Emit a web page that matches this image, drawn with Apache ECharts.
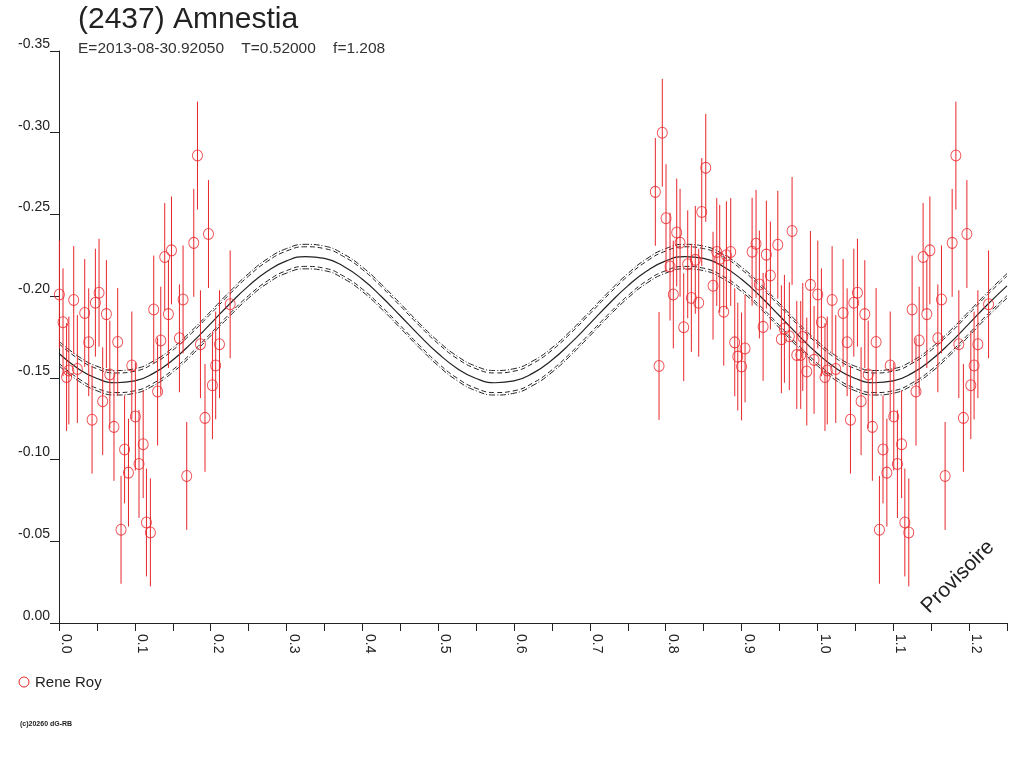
<!DOCTYPE html>
<html>
<head>
<meta charset="utf-8">
<title>(2437) Amnestia</title>
<script src="https://cdn.jsdelivr.net/npm/echarts/dist/echarts.min.js"></script>
<style>
html, body { margin: 0; padding: 0; background: #fff; }
#chart { width: 1024px; height: 768px; }
</style>
</head>
<body>
<div id="chart"></div>
<script>
// observations (phase, relative magnitude) - phases < 0.25 are repeated at phase + 1
var phases = [
    0.1826, 0.1971, 0.1777, 0.1483, 0.1394, 0.1636, 0.2257, 0.0005, 0.0194, 0.0528,
    0.0480, 0.0339, 0.0625, 0.0053, 0.1249, 0.1443, 0.0392, 0.0774, 0.1342, 0.1588,
    0.1865, 0.2116, 0.0130, 0.0100, 0.0242, 0.0670, 0.0960, 0.2066, 0.2023, 0.1300,
    0.0576, 0.0436, 0.0725, 0.1007, 0.1925, 0.1110, 0.0865, 0.1055, 0.0916, 0.1684,
    0.1153, 0.1205, 0.0818,
    0.7955, 0.8528, 0.7863, 0.8475, 0.8004, 0.9666, 0.8145, 0.8189, 0.9191, 0.9478,
    0.8857, 0.9139, 0.8673, 0.9327, 0.8800, 0.8712, 0.8390, 0.8057, 0.8290, 0.9380,
    0.8624, 0.9908, 0.8100, 0.8338, 0.8435, 0.8765, 0.9235, 0.8237, 0.9284, 0.9565,
    0.7912, 0.8910, 0.9046, 0.8950, 0.9000, 0.9525, 0.9630, 0.9807, 0.9728, 0.9780,
    0.9956, 0.9860
];
var mags = [
    -0.2860, -0.2380, -0.2326, -0.2280, -0.2240, -0.1980, -0.1950, -0.2010, -0.1976, -0.2021,
    -0.1960, -0.1897, -0.1890, -0.1840, -0.1918, -0.1890, -0.1718, -0.1720, -0.1728, -0.1742,
    -0.1706, -0.1706, -0.1545, -0.1505, -0.1554, -0.1520, -0.1576, -0.1576, -0.1455, -0.1416,
    -0.1357, -0.1244, -0.1200, -0.1263, -0.1255, -0.1094, -0.1062, -0.0973, -0.0920, -0.0900,
    -0.0615, -0.0554, -0.0570,
    -0.3000, -0.2785, -0.2638, -0.2515, -0.2477, -0.2399, -0.2389, -0.2327, -0.2320, -0.2315,
    -0.2270, -0.2272, -0.2270, -0.2254, -0.2250, -0.2228, -0.2222, -0.2181, -0.2195, -0.2126,
    -0.2064, -0.2069, -0.2010, -0.1989, -0.1960, -0.1905, -0.2071, -0.1810, -0.1812, -0.1800,
    -0.1573, -0.1717, -0.1680, -0.1630, -0.1570, -0.1736, -0.1755, -0.1750, -0.1640, -0.1640,
    -0.1610, -0.1539
];
var ERR = 0.033;

// fitted curve every 0.025 in phase
var curvePhase = [
    0.000, 0.025, 0.050, 0.075, 0.100, 0.125, 0.150, 0.175, 0.200, 0.225,
    0.250, 0.275, 0.300, 0.325, 0.350, 0.375, 0.400, 0.425, 0.450, 0.475,
    0.500, 0.525, 0.550, 0.575, 0.600, 0.625, 0.650, 0.675, 0.700, 0.725,
    0.750, 0.775, 0.800, 0.825, 0.850, 0.875, 0.900, 0.925, 0.950, 0.975,
    1.000, 1.025, 1.050, 1.075, 1.100, 1.125, 1.150, 1.175, 1.200, 1.225,
    1.250
];
var curveMag = [
    -0.1649, -0.1558, -0.1496, -0.1470, -0.1481, -0.1529, -0.1609, -0.1714, -0.1832, -0.1952,
    -0.2063, -0.2154, -0.2216, -0.2242, -0.2231, -0.2183, -0.2103, -0.1998, -0.1880, -0.1760,
    -0.1649, -0.1558, -0.1496, -0.1470, -0.1481, -0.1529, -0.1609, -0.1714, -0.1832, -0.1952,
    -0.2063, -0.2154, -0.2216, -0.2242, -0.2231, -0.2183, -0.2103, -0.1998, -0.1880, -0.1760,
    -0.1649, -0.1558, -0.1496, -0.1470, -0.1481, -0.1529, -0.1609, -0.1714, -0.1832, -0.1952,
    -0.2063
];
// half widths of the two uncertainty envelopes
var BAND_IN = 0.0060;
var BAND_OUT = 0.0075;

var RED = '#e8262b';
var INK = '#222';
var FONT = '"Liberation Sans", Arial, sans-serif';

var pts = [];
for (var i = 0; i < phases.length; i++) {
    pts.push([phases[i], mags[i]]);
    if (phases[i] + 1 <= 1.25) pts.push([phases[i] + 1, mags[i]]);
}

function curve(offset) {
    return curvePhase.map(function (p, k) { return [p, curveMag[k] + offset]; });
}

function bandLine(offset, dash) {
    return {
        type: 'line',
        data: curve(offset),
        smooth: true,
        symbol: 'none',
        silent: true,
        z: 2,
        lineStyle: { color: INK, width: 1, type: dash }
    };
}

var chart = echarts.init(document.getElementById('chart'));
var option = {
    animation: false,
    backgroundColor: '#fff',
    grid: { left: 59, right: 17, top: 51, bottom: 145 },
    xAxis: {
        type: 'value',
        min: 0,
        max: 1.25,
        interval: 0.05,
        splitLine: { show: false },
        axisLine: { lineStyle: { color: INK, width: 1 } },
        axisTick: { length: 8, lineStyle: { color: INK } },
        axisLabel: {
            rotate: -90,
            margin: 11,
            verticalAlign: 'bottom',
            fontSize: 14,
            fontFamily: FONT,
            color: INK,
            formatter: function (v) {
                var k = Math.round(v * 20);
                return k % 2 === 0 ? (k / 20).toFixed(1) : '';
            }
        }
    },
    yAxis: {
        type: 'value',
        inverse: true,
        min: -0.35,
        max: 0,
        interval: 0.05,
        splitLine: { show: false },
        axisLine: { show: true, lineStyle: { color: INK, width: 1 } },
        axisTick: { show: true, length: 9, lineStyle: { color: INK } },
        axisLabel: {
            margin: 9,
            verticalAlign: 'bottom',
            fontSize: 14,
            fontFamily: FONT,
            color: INK,
            formatter: function (v) {
                return Math.abs(v) < 1e-9 ? '0.00' : v.toFixed(2);
            }
        }
    },
    series: [
        {
            type: 'line',
            data: curve(0),
            smooth: true,
            symbol: 'none',
            silent: true,
            z: 2,
            lineStyle: { color: INK, width: 1.2 }
        },
        bandLine(-BAND_IN, [5, 3]),
        bandLine(BAND_IN, [5, 3]),
        bandLine(-BAND_OUT, [6, 2, 1, 2]),
        bandLine(BAND_OUT, [6, 2, 1, 2]),
        {
            // error bars
            type: 'custom',
            data: pts,
            silent: true,
            z: 3,
            renderItem: function (params, api) {
                var x = api.value(0), v = api.value(1);
                var a = api.coord([x, v - ERR]);
                var b = api.coord([x, v + ERR]);
                return {
                    type: 'line',
                    shape: { x1: a[0], y1: a[1], x2: b[0], y2: b[1] },
                    style: { stroke: RED, lineWidth: 1 }
                };
            }
        },
        {
            type: 'scatter',
            data: pts,
            symbol: 'circle',
            symbolSize: [10, 11],
            silent: true,
            z: 4,
            itemStyle: { color: 'rgba(0,0,0,0)', borderColor: RED, borderWidth: 1 }
        }
    ],
    graphic: [
        {
            type: 'text', left: 78, top: 5,
            style: { text: '(2437) Amnestia', font: '30px ' + FONT, fill: INK }
        },
        {
            type: 'text', left: 78, top: 41,
            style: { text: 'E=2013-08-30.92050    T=0.52000    f=1.208', font: '15.5px ' + FONT, fill: '#333' }
        },
        {
            type: 'circle',
            shape: { cx: 24, cy: 682, r: 5 },
            style: { fill: 'none', stroke: RED, lineWidth: 1 }
        },
        {
            type: 'text', left: 35, top: 675,
            style: { text: 'Rene Roy', font: '15px ' + FONT, fill: INK }
        },
        {
            type: 'text', left: 20, top: 721,
            style: { text: '(c)20260 dG-RB', font: 'bold 7px ' + FONT, fill: INK }
        },
        {
            type: 'text',
            x: 958, y: 577,
            rotation: Math.PI / 4,
            style: {
                text: 'Provisoire', font: '21px ' + FONT, fill: INK,
                align: 'center', verticalAlign: 'middle'
            }
        }
    ]
};
chart.setOption(option);
</script>
</body>
</html>
